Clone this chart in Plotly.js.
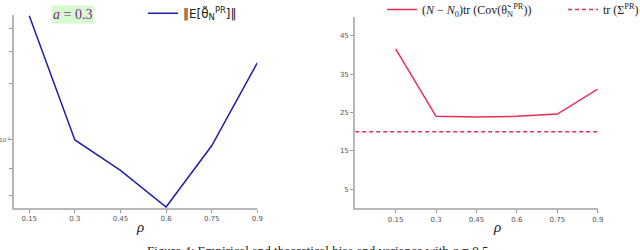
<!DOCTYPE html>
<html><head><meta charset="utf-8">
<script src="https://cdn.plot.ly/plotly-3.0.1.min.js"></script>
<style>html,body{margin:0;padding:0;background:#fff;}#c{width:640px;height:250px;}</style>
</head><body><div id="c"></div>
<script>
const rho = [0.15, 0.3, 0.45, 0.6, 0.75, 0.9];
const biasNorm = [4.65e-4, 1.0e-4, 6.85e-5, 4.35e-5, 9.3e-5, 2.6e-4];
const scaledTrCov = [41.6, 24.0, 23.8, 24.0, 24.6, 31.1];
const trSigma = [20, 20];
const trSigmaX = [0, 0.9];
const xTicks = [0.15, 0.3, 0.45, 0.6, 0.75, 0.9];
const xTickText = ['0.15', '0.3', '0.45', '0.6', '0.75', '0.9'];
const leftYMajor = [1e-4];
const leftYMajorText = ['10<sup>-4</sup>'];
const leftYMinor = [5e-5, 7e-5, 2e-4, 3e-4, 4e-4];
const rightYTicks = [5, 15, 25, 35, 45];

const blue = '#1f1fa8', red = '#ea2c55';
const axisCommon = {
  showline: true, linecolor: '#b8b8b8', linewidth: 2, ticks: 'outside', ticklen: 3,
  tickcolor: '#999', tickwidth: 1, showgrid: false, zeroline: false, automargin: false,
  tickfont: {family: 'DejaVu Sans', size: 7, color: '#555'}
};
const rhoFont = {family: 'Liberation Serif', size: 15, color: '#222'};
const traces = [
  {x: rho, y: biasNorm, xaxis: 'x', yaxis: 'y', mode: 'lines', line: {color: blue, width: 1.5},
   name: '‖E[θ̃<sub>N</sub><sup>PR</sup>]‖', legend: 'legend'},
  {x: rho, y: scaledTrCov, xaxis: 'x2', yaxis: 'y2', mode: 'lines', line: {color: red, width: 1.5},
   name: '(<i>N</i> − <i>N</i><sub>0</sub>)tr (Cov(θ̃<sub>N</sub><sup>PR</sup>))', legend: 'legend2'},
  {x: trSigmaX, y: trSigma, xaxis: 'x2', yaxis: 'y2', mode: 'lines', line: {color: red, width: 1.5, dash: '4px,3px'},
   name: 'tr (Σ<sup>PR</sup>)', legend: 'legend2'}
];
const layout = {
  width: 640, height: 250, margin: {l: 0, r: 0, t: 0, b: 0, autoexpand: false},
  paper_bgcolor: '#fff', plot_bgcolor: '#fff', showlegend: true,
  xaxis: Object.assign({}, axisCommon, {domain: [0.022, 0.402], range: [0.1, 0.9], tickvals: xTicks, ticktext: xTickText, anchor: 'y'}),
  yaxis: Object.assign({}, axisCommon, {domain: [0.168, 0.94], type: 'log',
    range: [Math.log10(4.3e-5), Math.log10(4.7e-4)], tickvals: leftYMajor, ticktext: leftYMajorText, anchor: 'x',
    tickfont: {family: 'DejaVu Sans', size: 5.5, color: '#555'}, ticklabelstandoff: -2,
    minor: {tickvals: leftYMinor, ticks: 'outside', ticklen: 3, tickcolor: '#999', showgrid: false}}),
  xaxis2: Object.assign({}, axisCommon, {domain: [0.555, 0.934], range: [0, 0.9], tickvals: xTicks, ticktext: xTickText, anchor: 'y2'}),
  yaxis2: Object.assign({}, axisCommon, {domain: [0.167, 0.933], range: [0, 50], tickvals: rightYTicks, anchor: 'x2'}),
  legend: {x: 143/640, xanchor: 'left', y: 1.005, yanchor: 'top', orientation: 'h', bgcolor: 'rgba(0,0,0,0)',
    font: {family: 'DejaVu Sans', size: 12, color: '#222'}},
  legend2: {x: 382/640, xanchor: 'left', y: 1.02, yanchor: 'top', orientation: 'h', bgcolor: 'rgba(0,0,0,0)',
    font: {family: 'Liberation Serif', size: 12, color: '#222'}, entrywidth: 136, entrywidthmode: 'pixels'},
  annotations: [
    {xref: 'paper', yref: 'paper', x: 72/640, y: 1 - 14/250, xanchor: 'center', yanchor: 'middle',
     text: '<i>a</i> = 0.3', showarrow: false,
     font: {family: 'Liberation Serif', size: 14, color: '#7a2a8c'}, bgcolor: '#d6fbcf', borderpad: 1},
    {xref: 'paper', yref: 'paper', x: 140/640, y: 1 - 227/250, xanchor: 'center', yanchor: 'middle',
     text: '<i>ρ</i>', showarrow: false, font: rhoFont},
    {xref: 'paper', yref: 'paper', x: 497/640, y: 1 - 227/250, xanchor: 'center', yanchor: 'middle',
     text: '<i>ρ</i>', showarrow: false, font: rhoFont},
    {xref: 'paper', yref: 'paper', x: 145/640, y: 1 - 241/250, xanchor: 'left', yanchor: 'top', showarrow: false,
     text: 'Figure 4: Empirical and theoretical bias and variance with <i>a</i> = 0.5',
     font: {family: 'Liberation Serif', size: 13, color: '#222'}}
  ]
};
Plotly.newPlot('c', traces, layout, {staticPlot: true, displayModeBar: false});
</script></body></html>
